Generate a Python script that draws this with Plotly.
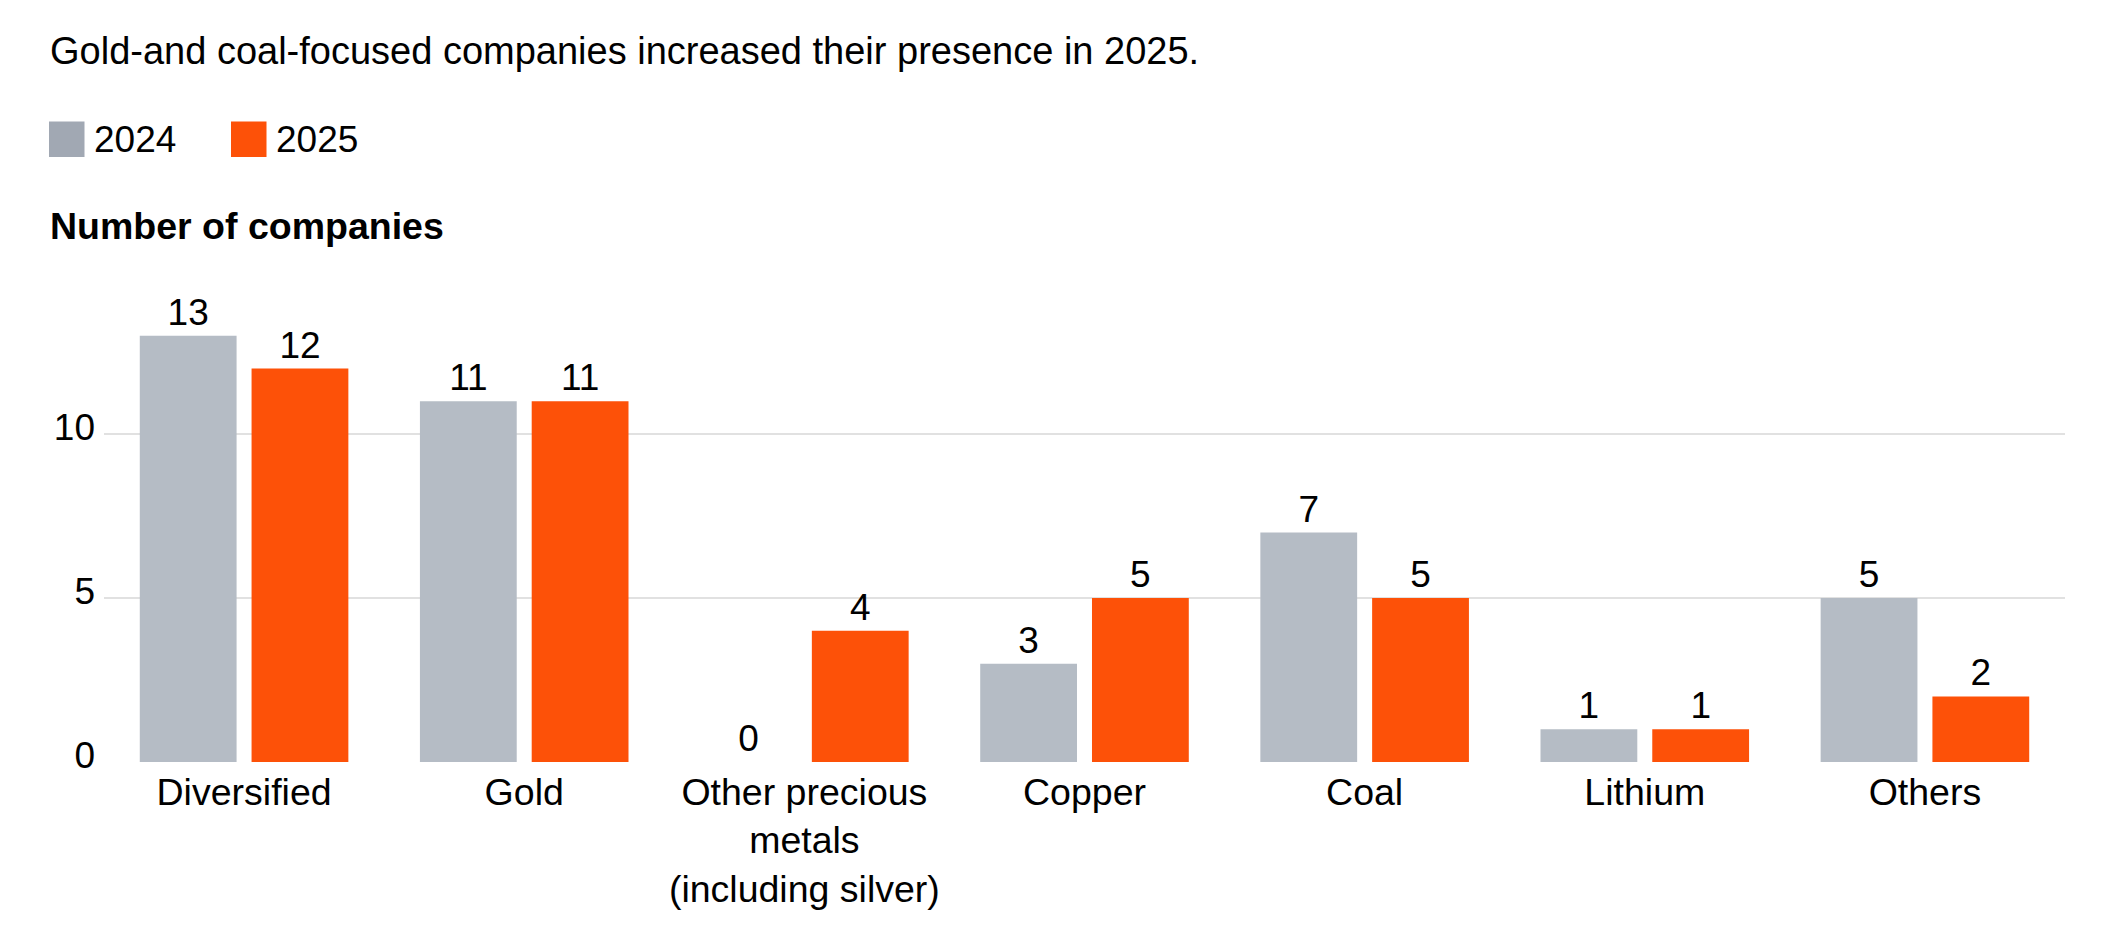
import plotly.graph_objects as go

# ---- data ----
categories = ["Diversified", "Gold", "Other precious<br>metals<br>(including silver)",
              "Copper", "Coal", "Lithium", "Others"]
series_names = ["2024", "2025"]
values_2024 = [13, 11, 0, 3, 7, 1, 5]
values_2025 = [12, 11, 4, 5, 5, 1, 2]
y_ticks = [0, 5, 10]

title_text = "Gold-and coal-focused companies increased their presence in 2025."
axis_title_text = "Number of companies"

# ---- styles ----
FONT = "Liberation Sans, Arial, Helvetica, sans-serif"
bar_colors = ["#b5bcc5", "#fd5108"]
legend_colors = ["#a1a8b3", "#fd5108"]

W_FIG, H_FIG = 2112, 950
L, R, T, B = 104, 2065, 303, 762
PW, PH = R - L, B - T


def px_x(px):
    return (px - L) / PW


def px_y(py):
    return (B - py) / PH


fig = go.Figure()
for name, vals, col in zip(series_names, [values_2024, values_2025], bar_colors):
    fig.add_trace(go.Bar(
        x=categories, y=vals, name=name,
        marker=dict(color=col, line=dict(width=0)),
        text=[str(v) for v in vals], textposition="outside",
        textfont=dict(family=FONT, size=37, color="#000000"),
        cliponaxis=False, showlegend=False, hoverinfo="x+y",
    ))

annotations = [
    dict(text=title_text, x=px_x(48), y=px_y(51), xref="paper", yref="paper",
         xanchor="left", yanchor="middle", showarrow=False,
         font=dict(family=FONT, size=38, color="#000000")),
    dict(text="<b>" + axis_title_text + "</b>", x=px_x(48), y=px_y(226.5),
         xref="paper", yref="paper", xanchor="left", yanchor="middle",
         showarrow=False, font=dict(family=FONT, size=37.5, color="#000000")),
]
shapes = []
legend_swatch_x = [49, 231]
for name, col, sx in zip(series_names, legend_colors, legend_swatch_x):
    shapes.append(dict(type="rect", xref="paper", yref="paper",
                       x0=px_x(sx), x1=px_x(sx + 35.5), y0=px_y(157), y1=px_y(121.5),
                       fillcolor=col, line=dict(width=0), layer="above"))
    annotations.append(dict(text=name, x=px_x(sx + 42.5), y=px_y(139.5),
                            xref="paper", yref="paper", xanchor="left", yanchor="middle",
                            showarrow=False, font=dict(family=FONT, size=37, color="#000000")))

fig.update_layout(
    width=W_FIG, height=H_FIG, autosize=False,
    margin=dict(l=L, r=W_FIG - R, t=T, b=H_FIG - B, autoexpand=False),
    paper_bgcolor="#ffffff", plot_bgcolor="#ffffff",
    barmode="group", bargap=0.202, bargroupgap=0.134,
    font=dict(family=FONT, size=37, color="#000000"),
    annotations=annotations, shapes=shapes,
    xaxis=dict(showgrid=False, showline=False, zeroline=False, ticks="",
               tickfont=dict(family=FONT, size=37.5, color="#000000"),
               ticklabelstandoff=4, fixedrange=True),
    yaxis=dict(range=[0, 14], tickvals=y_ticks, ticktext=[str(v) for v in y_ticks],
               showgrid=True, gridcolor="#e1e1e1", gridwidth=1.5,
               zeroline=False, showline=False, ticks="",
               tickfont=dict(family=FONT, size=37, color="#000000"),
               ticklabelshift=-7, ticklabelstandoff=8, fixedrange=True),
)

fig.write_html("out.html")
